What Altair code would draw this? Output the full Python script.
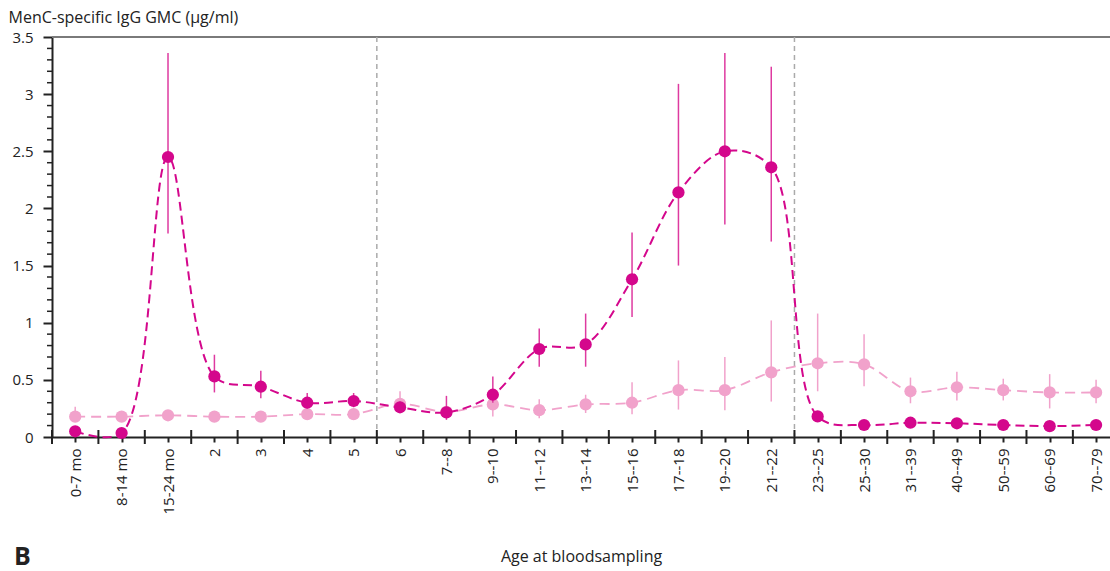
import json
import altair as alt
import pandas as pd

# Age groups along the x axis
age_groups = [
    "0-7 mo", "8-14 mo", "15-24 mo", "2", "3", "4", "5", "6", "7--8", "9--10",
    "11--12", "13--14", "15--16", "17--18", "19--20", "21--22", "23--25",
    "25--30", "31--39", "40--49", "50--59", "60--69", "70--79",
]

# Dark series: GMC with lower / upper 95% limits
dark_gmc = [0.05, 0.035, 2.45, 0.53, 0.44, 0.30, 0.315, 0.26, 0.215, 0.37,
            0.77, 0.81, 1.38, 2.14, 2.50, 2.36, 0.18, 0.105, 0.125, 0.12,
            0.105, 0.095, 0.105]
dark_lo = [0.04, 0.03, 1.78, 0.39, 0.34, 0.25, 0.26, 0.22, 0.15, 0.30,
           0.615, 0.615, 1.05, 1.50, 1.86, 1.71, 0.15, 0.09, 0.11, 0.10,
           0.09, 0.08, 0.09]
dark_hi = [0.065, 0.045, 3.36, 0.72, 0.58, 0.385, 0.385, 0.31, 0.36, 0.53,
           0.95, 1.08, 1.79, 3.09, 3.36, 3.24, 0.21, 0.12, 0.14, 0.14,
           0.12, 0.11, 0.12]

# Light series: GMC with lower / upper 95% limits
light_gmc = [0.178, 0.178, 0.19, 0.178, 0.178, 0.20, 0.20, 0.29, 0.22, 0.285,
             0.235, 0.285, 0.30, 0.41, 0.41, 0.566, 0.645, 0.636, 0.40, 0.435,
             0.41, 0.39, 0.39]
light_lo = [0.15, 0.16, 0.17, 0.16, 0.16, 0.18, 0.18, 0.22, 0.19, 0.18,
            0.165, 0.21, 0.20, 0.24, 0.235, 0.31, 0.40, 0.445, 0.295, 0.32,
            0.32, 0.25, 0.295]
light_hi = [0.265, 0.20, 0.21, 0.20, 0.20, 0.22, 0.22, 0.40, 0.25, 0.385,
            0.33, 0.37, 0.48, 0.67, 0.70, 1.02, 1.08, 0.90, 0.52, 0.57,
            0.51, 0.55, 0.50]

# Period separators (between groups)
separators = [6.5, 15.5]

DARK = "#D4078C"
DARK_BAR = "#DE3AA0"
LIGHT = "#F1A2CB"
AXIS = "#222222"
FONT = "Open Sans"

W, H = 1058, 400

idx = list(range(len(age_groups)))
dark = pd.DataFrame({"idx": idx, "gmc": dark_gmc, "lo": dark_lo, "hi": dark_hi})
light = pd.DataFrame({"idx": idx, "gmc": light_gmc, "lo": light_lo, "hi": light_hi})

x_scale = alt.Scale(domain=[-0.5, 22.3], nice=False, zero=False)
y_scale = alt.Scale(domain=[0, 3.5], nice=False)

label_expr = json.dumps(age_groups) + "[datum.value]"

x_enc = alt.X(
    "idx:Q", scale=x_scale,
    axis=alt.Axis(
        values=idx, labelExpr=label_expr, labelAngle=270, labelFontSize=15,
        labelPadding=6, tickSize=5, tickWidth=2, tickColor=AXIS,
        domainColor=AXIS, domainWidth=2, grid=False, labelColor=AXIS,
        labelFont=FONT, title="Age at bloodsampling", titleFont=FONT,
        titleFontSize=16, titleFontWeight="normal", titleColor=AXIS,
        titleY=124, titleBaseline="alphabetic",
    ),
)
y_enc = alt.Y(
    "gmc:Q", scale=y_scale,
    axis=alt.Axis(
        values=[0, 0.5, 1, 1.5, 2, 2.5, 3, 3.5], format="~g", tickSize=9,
        tickWidth=2, tickColor=AXIS, domainColor=AXIS, domainWidth=2,
        grid=False, labelFontSize=15, labelPadding=10, labelColor=AXIS,
        labelFont=FONT, title="MenC-specific IgG GMC (µg/ml)", titleFont=FONT,
        titleFontSize=16, titleFontWeight="normal", titleColor=AXIS,
        titleAngle=0, titleAlign="left", titleBaseline="alphabetic",
        titleX=-44, titleY=-15,
    ),
)


def series(df, color, bar_color, dash, line_w):
    base = alt.Chart(df)
    bars = base.mark_rule(color=bar_color, strokeWidth=1.5).encode(
        x=alt.X("idx:Q", scale=x_scale), y=alt.Y("lo:Q", scale=y_scale), y2="hi:Q"
    )
    line = base.mark_line(
        color=color, strokeDash=dash, strokeWidth=line_w, interpolate="catmull-rom"
    ).encode(x=x_enc, y=y_enc)
    pts = base.mark_circle(color=color, size=150, opacity=1).encode(x=x_enc, y=y_enc)
    return [bars, line, pts]


top_line = alt.Chart(pd.DataFrame({"k": [0]})).mark_rule(
    color="#7a7a7a", strokeWidth=2
).encode(x=alt.value(0), x2=alt.value(W), y=alt.value(0))

sep = alt.Chart(pd.DataFrame({"pos": separators})).mark_rule(
    color="#aaaaaa", strokeDash=[5, 4], strokeWidth=1.5
).encode(x=alt.X("pos:Q", scale=x_scale))

# Crossing ticks at the group boundaries
bounds = [i + 0.5 for i in range(-1, 22)]
bound_ticks = alt.Chart(pd.DataFrame({"b": bounds})).mark_rule(
    color=AXIS, strokeWidth=2
).encode(x=alt.X("b:Q", scale=x_scale), y=alt.value(H - 7), y2=alt.value(H + 7))

# Minor ticks on the y axis every 0.1
minor = [round(v / 10, 1) for v in range(1, 35) if v % 5 != 0]
minor_ticks = alt.Chart(pd.DataFrame({"m": minor})).mark_rule(
    color=AXIS, strokeWidth=1.5
).encode(y=alt.Y("m:Q", scale=y_scale), x=alt.value(-5), x2=alt.value(0))

panel_letter = alt.Chart(pd.DataFrame({"t": ["B"]})).mark_text(
    font=FONT, fontSize=25, fontWeight="bold", color=AXIS, align="left",
    baseline="alphabetic",
).encode(text="t:N", x=alt.value(-38), y=alt.value(H + 128))

layers = (
    [top_line, sep]
    + series(light, LIGHT, LIGHT, [10, 6], 1.8)
    + series(dark, DARK, DARK_BAR, [9, 5], 2)
    + [bound_ticks, minor_ticks, panel_letter]
)

chart = alt.layer(*layers).properties(
    width=W, height=H,
    autosize=alt.AutoSizeParams(type="none"),
    padding={"left": 52, "top": 37, "right": 0, "bottom": 134},
).configure_view(stroke=None).configure(background="white")

chart.save("out.html", embed_options={"renderer": "svg", "actions": False})
